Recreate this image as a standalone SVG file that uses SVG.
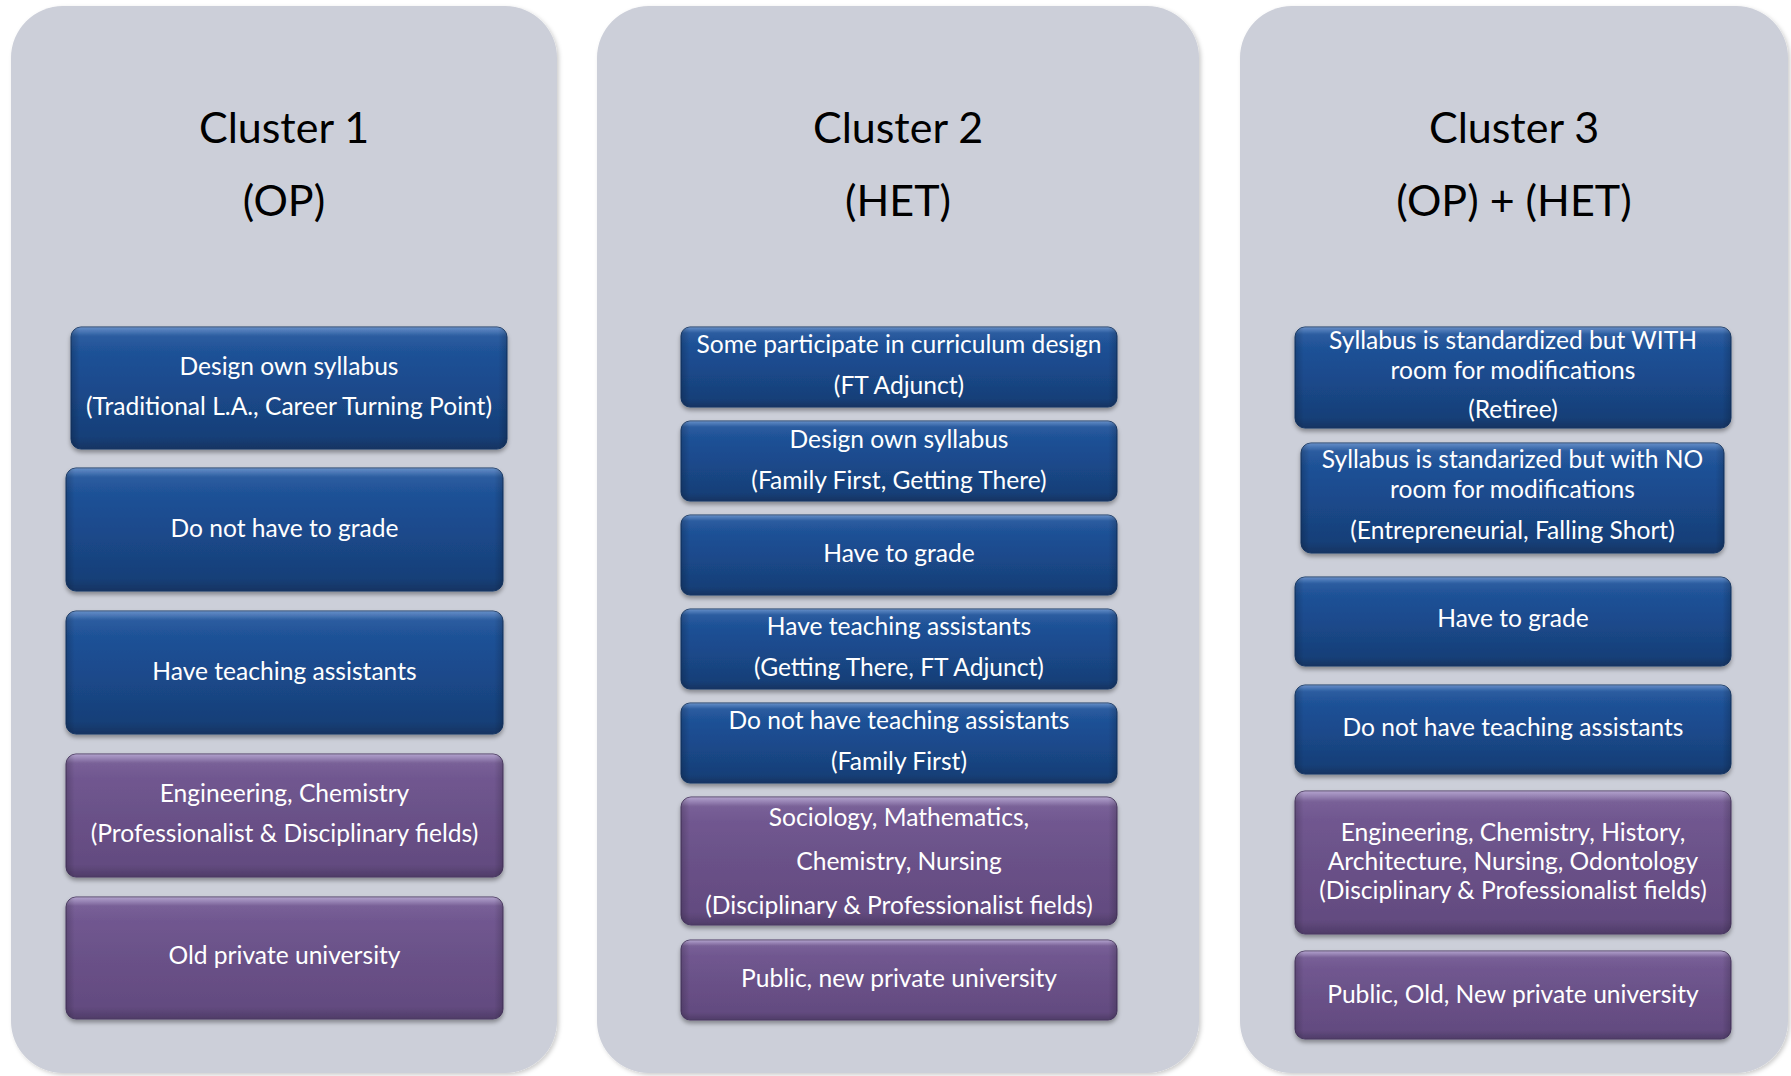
<svg xmlns="http://www.w3.org/2000/svg" width="1791" height="1076" viewBox="0 0 1791 1076">
<defs>
<style>
.panel{fill:#CCCFD9;filter:url(#pshadow)}
.title{font-family:Lato,"Liberation Sans",sans-serif;font-size:43px;fill:#000;text-anchor:middle}
.lbl{font-family:Lato,"Liberation Sans",sans-serif;font-size:24.6px;fill:#fff;text-anchor:middle}
.blue{fill:url(#gBlue);stroke:#143766;stroke-width:1;filter:url(#bshadow)}
.purple{fill:url(#gPurple);stroke:#4A3963;stroke-width:1;filter:url(#bshadow)}
.gloss{fill:url(#gGloss);stroke:none}
.edge{fill:url(#gEdge);stroke:none}
</style>
<linearGradient id="gBlue" x1="0" y1="0" x2="0" y2="1">
<stop offset="0" stop-color="#3A6EB8"/>
<stop offset="0.07" stop-color="#21559C"/>
<stop offset="0.5" stop-color="#1B4A8C"/>
<stop offset="0.9" stop-color="#173F78"/>
<stop offset="1" stop-color="#123462"/>
</linearGradient>
<linearGradient id="gPurple" x1="0" y1="0" x2="0" y2="1">
<stop offset="0" stop-color="#9C87BF"/>
<stop offset="0.07" stop-color="#735A93"/>
<stop offset="0.5" stop-color="#6A5188"/>
<stop offset="0.9" stop-color="#634B80"/>
<stop offset="1" stop-color="#4F3C68"/>
</linearGradient>
<linearGradient id="gGloss" x1="0" y1="0" x2="0" y2="1">
<stop offset="0" stop-color="#fff" stop-opacity="0.22"/>
<stop offset="0.08" stop-color="#fff" stop-opacity="0.04"/>
<stop offset="0.2" stop-color="#fff" stop-opacity="0"/>
</linearGradient>
<linearGradient id="gEdge" x1="0" y1="0" x2="1" y2="0">
<stop offset="0" stop-color="#000" stop-opacity="0.18"/>
<stop offset="0.02" stop-color="#000" stop-opacity="0"/>
<stop offset="0.98" stop-color="#000" stop-opacity="0"/>
<stop offset="1" stop-color="#000" stop-opacity="0.18"/>
</linearGradient>
<filter id="pshadow" x="-5%" y="-5%" width="110%" height="110%">
<feDropShadow dx="2" dy="2" stdDeviation="2" flood-color="#000" flood-opacity="0.2"/>
</filter>
<filter id="bshadow" x="-5%" y="-10%" width="110%" height="130%">
<feDropShadow dx="0" dy="3" stdDeviation="2" flood-color="#000" flood-opacity="0.35"/>
</filter>
</defs>

<g id="cluster1">
<rect class="panel" x="11" y="6" width="546" height="1067" rx="52"/>
<text class="title" x="284" y="143">Cluster 1</text>
<text class="title" x="284" y="216">(OP)</text>
</g>
<g id="cluster2">
<rect class="panel" x="597" y="6" width="602" height="1067" rx="52"/>
<text class="title" x="898" y="143">Cluster 2</text>
<text class="title" x="898" y="216">(HET)</text>
</g>
<g id="cluster3">
<rect class="panel" x="1240" y="6" width="548" height="1067" rx="52"/>
<text class="title" x="1514" y="143">Cluster 3</text>
<text class="title" x="1514" y="216">(OP) + (HET)</text>
</g>

<g id="c1-b1"><rect class="blue" x="71" y="327" width="436" height="122" rx="10"/><rect class="gloss" x="71" y="327" width="436" height="122" rx="10"/><rect class="edge" x="71" y="327" width="436" height="122" rx="10"/>
<text class="lbl" x="289" y="375">Design own syllabus</text><text class="lbl" x="289" y="415">(Traditional L.A., Career Turning Point)</text></g>
<g id="c1-b2"><rect class="blue" x="66" y="468" width="437" height="123" rx="10"/><rect class="gloss" x="66" y="468" width="437" height="123" rx="10"/><rect class="edge" x="66" y="468" width="437" height="123" rx="10"/>
<text class="lbl" x="284.5" y="537">Do not have to grade</text></g>
<g id="c1-b3"><rect class="blue" x="66" y="611" width="437" height="123" rx="10"/><rect class="gloss" x="66" y="611" width="437" height="123" rx="10"/><rect class="edge" x="66" y="611" width="437" height="123" rx="10"/>
<text class="lbl" x="284.5" y="680">Have teaching assistants</text></g>
<g id="c1-b4"><rect class="purple" x="66" y="754" width="437" height="123" rx="10"/><rect class="gloss" x="66" y="754" width="437" height="123" rx="10"/><rect class="edge" x="66" y="754" width="437" height="123" rx="10"/>
<text class="lbl" x="284.5" y="802">Engineering, Chemistry</text><text class="lbl" x="284.5" y="842">(Professionalist &amp; Disciplinary fields)</text></g>
<g id="c1-b5"><rect class="purple" x="66" y="897" width="437" height="122" rx="10"/><rect class="gloss" x="66" y="897" width="437" height="122" rx="10"/><rect class="edge" x="66" y="897" width="437" height="122" rx="10"/>
<text class="lbl" x="284.5" y="964">Old private university</text></g>

<g id="c2-b1"><rect class="blue" x="681" y="327" width="436" height="80" rx="9"/><rect class="gloss" x="681" y="327" width="436" height="80" rx="9"/><rect class="edge" x="681" y="327" width="436" height="80" rx="9"/>
<text class="lbl" x="899" y="353">Some participate in curriculum design</text><text class="lbl" x="899" y="394">(FT Adjunct)</text></g>
<g id="c2-b2"><rect class="blue" x="681" y="421" width="436" height="80" rx="9"/><rect class="gloss" x="681" y="421" width="436" height="80" rx="9"/><rect class="edge" x="681" y="421" width="436" height="80" rx="9"/>
<text class="lbl" x="899" y="448">Design own syllabus</text><text class="lbl" x="899" y="489">(Family First, Getting There)</text></g>
<g id="c2-b3"><rect class="blue" x="681" y="515" width="436" height="80" rx="9"/><rect class="gloss" x="681" y="515" width="436" height="80" rx="9"/><rect class="edge" x="681" y="515" width="436" height="80" rx="9"/>
<text class="lbl" x="899" y="562">Have to grade</text></g>
<g id="c2-b4"><rect class="blue" x="681" y="609" width="436" height="80" rx="9"/><rect class="gloss" x="681" y="609" width="436" height="80" rx="9"/><rect class="edge" x="681" y="609" width="436" height="80" rx="9"/>
<text class="lbl" x="899" y="635">Have teaching assistants</text><text class="lbl" x="899" y="676">(Getting There, FT Adjunct)</text></g>
<g id="c2-b5"><rect class="blue" x="681" y="703" width="436" height="80" rx="9"/><rect class="gloss" x="681" y="703" width="436" height="80" rx="9"/><rect class="edge" x="681" y="703" width="436" height="80" rx="9"/>
<text class="lbl" x="899" y="729">Do not have teaching assistants</text><text class="lbl" x="899" y="770">(Family First)</text></g>
<g id="c2-b6"><rect class="purple" x="681" y="797" width="436" height="128" rx="10"/><rect class="gloss" x="681" y="797" width="436" height="128" rx="10"/><rect class="edge" x="681" y="797" width="436" height="128" rx="10"/>
<text class="lbl" x="899" y="826">Sociology, Mathematics,</text><text class="lbl" x="899" y="870">Chemistry, Nursing</text><text class="lbl" x="899" y="914">(Disciplinary &amp; Professionalist fields)</text></g>
<g id="c2-b7"><rect class="purple" x="681" y="940" width="436" height="80" rx="9"/><rect class="gloss" x="681" y="940" width="436" height="80" rx="9"/><rect class="edge" x="681" y="940" width="436" height="80" rx="9"/>
<text class="lbl" x="899" y="987">Public, new private university</text></g>

<g id="c3-b1"><rect class="blue" x="1295" y="327" width="436" height="101" rx="10"/><rect class="gloss" x="1295" y="327" width="436" height="101" rx="10"/><rect class="edge" x="1295" y="327" width="436" height="101" rx="10"/>
<text class="lbl" x="1513" y="349">Syllabus is standardized but WITH</text><text class="lbl" x="1513" y="379">room for modifications</text><text class="lbl" x="1513" y="418">(Retiree)</text></g>
<g id="c3-b2"><rect class="blue" x="1301" y="443" width="423" height="110" rx="10"/><rect class="gloss" x="1301" y="443" width="423" height="110" rx="10"/><rect class="edge" x="1301" y="443" width="423" height="110" rx="10"/>
<text class="lbl" x="1512.5" y="468">Syllabus is standarized but with NO</text><text class="lbl" x="1512.5" y="498">room for modifications</text><text class="lbl" x="1512.5" y="539">(Entrepreneurial, Falling Short)</text></g>
<g id="c3-b3"><rect class="blue" x="1295" y="577" width="436" height="89" rx="10"/><rect class="gloss" x="1295" y="577" width="436" height="89" rx="10"/><rect class="edge" x="1295" y="577" width="436" height="89" rx="10"/>
<text class="lbl" x="1513" y="627">Have to grade</text></g>
<g id="c3-b4"><rect class="blue" x="1295" y="685" width="436" height="89" rx="10"/><rect class="gloss" x="1295" y="685" width="436" height="89" rx="10"/><rect class="edge" x="1295" y="685" width="436" height="89" rx="10"/>
<text class="lbl" x="1513" y="736">Do not have teaching assistants</text></g>
<g id="c3-b5"><rect class="purple" x="1295" y="791" width="436" height="143" rx="10"/><rect class="gloss" x="1295" y="791" width="436" height="143" rx="10"/><rect class="edge" x="1295" y="791" width="436" height="143" rx="10"/>
<text class="lbl" x="1513" y="841">Engineering, Chemistry, History,</text><text class="lbl" x="1513" y="870">Architecture, Nursing, Odontology</text><text class="lbl" x="1513" y="899">(Disciplinary &amp; Professionalist fields)</text></g>
<g id="c3-b6"><rect class="purple" x="1295" y="951" width="436" height="88" rx="10"/><rect class="gloss" x="1295" y="951" width="436" height="88" rx="10"/><rect class="edge" x="1295" y="951" width="436" height="88" rx="10"/>
<text class="lbl" x="1513" y="1003">Public, Old, New private university</text></g>

<g id="connectors"/>
</svg>
